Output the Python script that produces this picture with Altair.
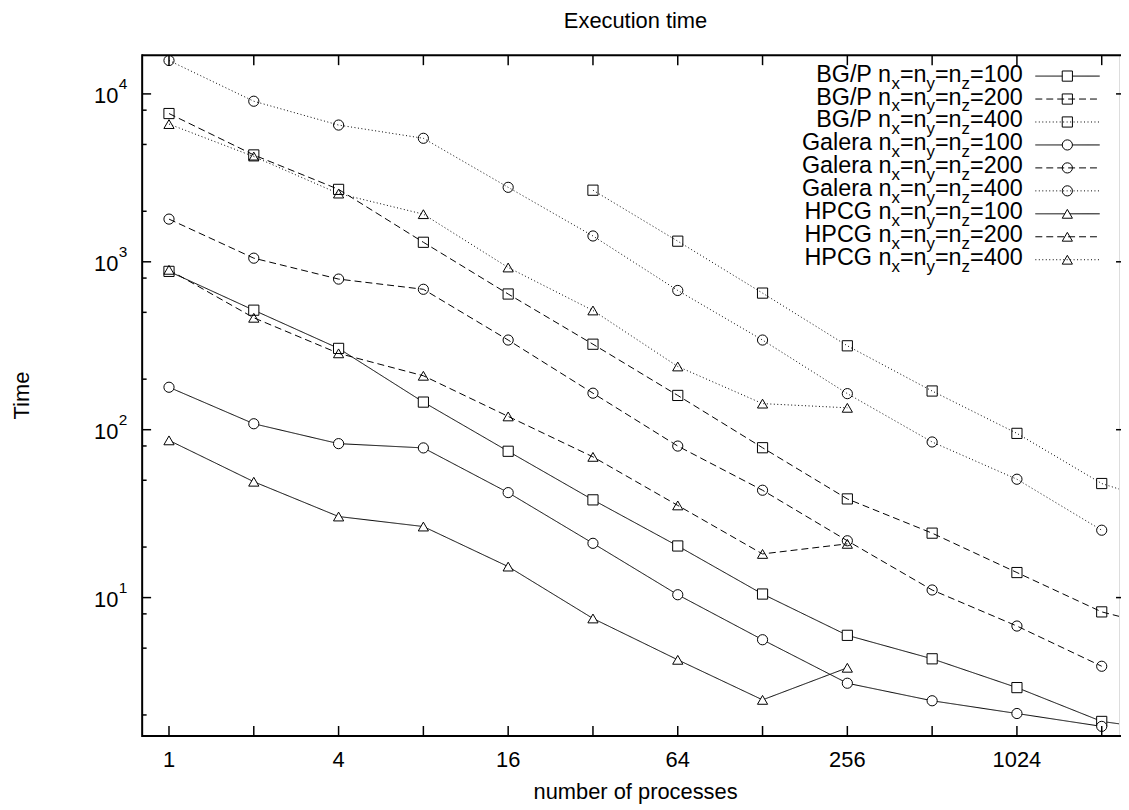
import altair as alt
import pandas as pd

# ---------------- data ----------------
procs = [1, 2, 4, 8, 16, 32, 64, 128, 256, 512, 1024, 2048, 4096]

bgp_100 = [877, 515, 305, 146, 74.4, 38.2, 20.3, 10.5, 5.96, 4.32, 2.91, 1.83, 1.56]
bgp_200 = [7640, 4330, 2700, 1307, 643, 323, 160, 78.1, 38.7, 24.2, 14.1, 8.22, 6.1]
bgp_400_procs = [32, 64, 128, 256, 512, 1024, 2048, 4096]
bgp_400 = [2670, 1327, 651, 316, 170, 95.1, 47.8, 33]

galera_procs = [1, 2, 4, 8, 16, 32, 64, 128, 256, 512, 1024, 2048]
galera_100 = [179, 108.5, 82.6, 77.9, 42.2, 21.05, 10.4, 5.61, 3.09, 2.43, 2.04, 1.71]
galera_200 = [1796, 1051, 789, 686, 342, 165, 79.9, 43.6, 21.8, 11.1, 6.77, 3.90]
galera_400 = [15810, 9045, 6523, 5440, 2777, 1425, 675, 342, 164, 84.5, 50.7, 25.2]

hpcg_procs = [1, 2, 4, 8, 16, 32, 64, 128, 256]
hpcg_100 = [86.4, 49.0, 30.4, 26.5, 15.3, 7.51, 4.26, 2.46, 3.82]
hpcg_200 = [896, 464, 285, 209.5, 120, 68.9, 35.4, 18.2, 20.9]
hpcg_400 = [6612, 4237, 2549, 1922, 925, 513, 238, 143, 135]

systems = ["BG/P", "Galera", "HPCG"]
sizes = ["100", "200", "400"]

x_tick_values = [1, 2, 4, 8, 16, 32, 64, 128, 256, 512, 1024, 2048]
x_label_values = [1, 4, 16, 64, 256, 1024]
y_major = [10, 100, 1000, 10000]
y_major_exp = ["1", "2", "3", "4"]
y_minor = [2, 5, 8, 20, 50, 80, 200, 500, 800, 2000, 5000, 8000]

title_text = "Execution time"
x_title = "number of processes"
y_title = "Time"

# ---------------- build tables ----------------
series_data = {
    ("BG/P", "100"): (procs, bgp_100),
    ("BG/P", "200"): (procs, bgp_200),
    ("BG/P", "400"): (bgp_400_procs, bgp_400),
    ("Galera", "100"): (galera_procs, galera_100),
    ("Galera", "200"): (galera_procs, galera_200),
    ("Galera", "400"): (galera_procs, galera_400),
    ("HPCG", "100"): (hpcg_procs, hpcg_100),
    ("HPCG", "200"): (hpcg_procs, hpcg_200),
    ("HPCG", "400"): (hpcg_procs, hpcg_400),
}

keys = []
rows = []
for sysname in systems:
    for sz in sizes:
        key = f"{sysname} {sz}"
        keys.append(key)
        xs, ys = series_data[(sysname, sz)]
        for xv, yv in zip(xs, ys):
            rows.append({"series": key, "procs": xv, "time": yv})
df = pd.DataFrame(rows)

dash_by_size = {"100": [1, 0], "200": [7, 4], "400": [1, 2.5]}
shape_by_sys = {"BG/P": "square", "Galera": "circle", "HPCG": "triangle-up"}
fill_by_size = {"100": "white", "200": "transparent", "400": "transparent"}
dash_range = [dash_by_size[k.split(" ")[1]] for k in keys]
shape_range = [shape_by_sys[k.split(" ")[0]] for k in keys]
fill_range = [fill_by_size[k.split(" ")[1]] for k in keys]

W, H = 983, 685
FONT = "Liberation Sans"

xscale = alt.Scale(type="log", domain=[0.803, 2359], nice=False, zero=False)
yscale = alt.Scale(type="log", domain=[1.5, 17000], nice=False, zero=False)
dash_scale = alt.Scale(domain=keys, range=dash_range)
shape_scale = alt.Scale(domain=keys, range=shape_range)
fill_scale = alt.Scale(domain=keys, range=fill_range)

xq = alt.X("procs:Q", scale=xscale, axis=None)
yq = alt.Y("time:Q", scale=yscale, axis=None)

base = alt.Chart(df).encode(x=xq, y=yq)

lines = base.mark_line(clip=True, color="black", strokeWidth=1).encode(
    detail="series:N",
    strokeDash=alt.StrokeDash("series:N", scale=dash_scale, legend=None),
    order="procs:Q",
)

points = base.mark_point(
    clip=True, size=105, color="black", strokeWidth=1, opacity=1, filled=False
).encode(
    shape=alt.Shape("series:N", scale=shape_scale, legend=None),
    fill=alt.Fill("series:N", scale=fill_scale, legend=None),
)

# ---------------- frame and inward ticks ----------------
xt_df = pd.DataFrame({"procs": x_tick_values})
xl_df = pd.DataFrame({"procs": x_label_values, "label": [str(v) for v in x_label_values]})
ymaj_df = pd.DataFrame({"time": y_major, "exp": y_major_exp, "base": ["10"] * len(y_major)})
ymin_df = pd.DataFrame({"time": y_minor})
one = pd.DataFrame({"k": [0]})

tick_style = dict(color="black", strokeWidth=1.5)

bottom_ticks = alt.Chart(xt_df).mark_rule(**tick_style).encode(
    x=xq, y=alt.value(H), y2=alt.value(H - 10))
top_ticks = alt.Chart(xt_df).mark_rule(**tick_style).encode(
    x=xq, y=alt.value(0), y2=alt.value(10))
left_major = alt.Chart(ymaj_df).mark_rule(**tick_style).encode(
    y=yq, x=alt.value(0), x2=alt.value(9))
left_minor = alt.Chart(ymin_df).mark_rule(**tick_style).encode(
    y=yq, x=alt.value(0), x2=alt.value(4.5))
right_major = alt.Chart(ymaj_df).mark_rule(**tick_style).encode(
    y=yq, x=alt.value(W - 3), x2=alt.value(W + 2))

border_style = dict(color="black", strokeWidth=2)
left_border = alt.Chart(one).mark_rule(**border_style).encode(
    x=alt.value(0), y=alt.value(-1), y2=alt.value(H + 1))
top_border = alt.Chart(one).mark_rule(**border_style).encode(
    x=alt.value(0), x2=alt.value(W + 2), y=alt.value(0))
bottom_border = alt.Chart(one).mark_rule(**border_style).encode(
    x=alt.value(0), x2=alt.value(W + 2), y=alt.value(H))

txt_style = dict(font=FONT, color="black", baseline="alphabetic")

# tick labels
xlab = alt.Chart(xl_df).mark_text(align="center", fontSize=22, **txt_style).encode(
    x=xq, y=alt.value(H + 31), text="label:N")
ylab_base = alt.Chart(ymaj_df).mark_text(
    align="right", dy=9.5, fontSize=22, **txt_style
).encode(y=yq, x=alt.value(-24), text="base:N")
ylab_exp = alt.Chart(ymaj_df).mark_text(
    align="left", dy=-4.5, fontSize=15.5, **txt_style
).encode(y=yq, x=alt.value(-23.5), text="exp:N")

# titles
title_df = pd.DataFrame({"t": [title_text]})
xt_title_df = pd.DataFrame({"t": [x_title]})
yt_title_df = pd.DataFrame({"t": [y_title]})
main_title = alt.Chart(title_df).mark_text(align="center", fontSize=22, **txt_style).encode(
    x=alt.value(W / 2 + 5), y=alt.value(-27), text="t:N")
x_title_mark = alt.Chart(xt_title_df).mark_text(align="center", fontSize=22, **txt_style).encode(
    x=alt.value(W / 2 + 5), y=alt.value(H + 63), text="t:N")
y_title_mark = alt.Chart(yt_title_df).mark_text(
    align="center", fontSize=22, angle=270, **txt_style
).encode(x=alt.value(-114), y=alt.value(H / 2), text="t:N")

# ---------------- legend (with subscripts) ----------------
ADV = {'B': 667, 'G': 778, '/': 278, 'P': 667, ' ': 278, 'n': 556, 'a': 556,
       'l': 222, 'e': 556, 'r': 333, 'H': 722, 'C': 722, 'x': 500, 'y': 500,
       'z': 500, '=': 584, '0': 556, '1': 556, '2': 556, '4': 556}
FS_MAIN, FS_SUB = 23.5, 17


def text_w(s, fs):
    return sum(ADV[c] for c in s) * fs / 1000.0


LEG_RIGHT = 886.0
LEG_Y0, LEG_DY = 21.0, 23.1
leg_rows = []
leg_txt = []
for i, key in enumerate(keys):
    sysname, sz = key.split(" ")
    ly = LEG_Y0 + LEG_DY * i
    leg_rows.append({"series": key, "ly": ly})
    pieces = [(sysname + " n", "m"), ("x", "s"), ("=n", "m"), ("y", "s"),
              ("=n", "m"), ("z", "s"), ("=" + sz, "m")]
    right = LEG_RIGHT
    for txt, kind in reversed(pieces):
        w = text_w(txt, FS_MAIN if kind == "m" else FS_SUB)
        left = right - w
        leg_txt.append({"piece": txt, "kind": kind, "px": left,
                        "py": ly + (5.5 if kind == "m" else 12.5)})
        right = left
leg_df = pd.DataFrame(leg_rows)
leg_txt_df = pd.DataFrame(leg_txt)

lx_px = alt.X("px:Q", scale=None, axis=None)
ly_px = alt.Y("py:Q", scale=None, axis=None)
leg_main = alt.Chart(leg_txt_df).transform_filter(alt.datum.kind == "m").mark_text(
    align="left", fontSize=FS_MAIN, **txt_style
).encode(x=lx_px, y=ly_px, text="piece:N")
leg_sub = alt.Chart(leg_txt_df).transform_filter(alt.datum.kind == "s").mark_text(
    align="left", fontSize=FS_SUB, **txt_style
).encode(x=lx_px, y=ly_px, text="piece:N")

leg_y = alt.Y("ly:Q", scale=None, axis=None)
leg_lines = alt.Chart(leg_df).mark_rule(color="black", strokeWidth=1).encode(
    x=alt.value(898.8), x2=alt.value(963.6), y=leg_y,
    strokeDash=alt.StrokeDash("series:N", scale=dash_scale, legend=None),
)
leg_pts = alt.Chart(leg_df).mark_point(
    size=105, color="black", strokeWidth=1, opacity=1, filled=False
).encode(
    x=alt.value(931), y=leg_y,
    shape=alt.Shape("series:N", scale=shape_scale, legend=None),
    fill=alt.Fill("series:N", scale=fill_scale, legend=None),
)

chart = alt.layer(
    lines, points,
    bottom_ticks, top_ticks, left_major, left_minor, right_major,
    left_border, top_border, bottom_border,
    xlab, ylab_base, ylab_exp,
    main_title, x_title_mark, y_title_mark,
    leg_lines, leg_pts, leg_main, leg_sub,
).properties(
    width=W, height=H,
    autosize=alt.AutoSizeParams(type="none"),
    padding={"left": 135, "top": 45, "right": 2, "bottom": 68},
).configure_view(stroke=None).configure(font=FONT)

chart.save("out.html", embed_options={"renderer": "svg", "actions": False})
